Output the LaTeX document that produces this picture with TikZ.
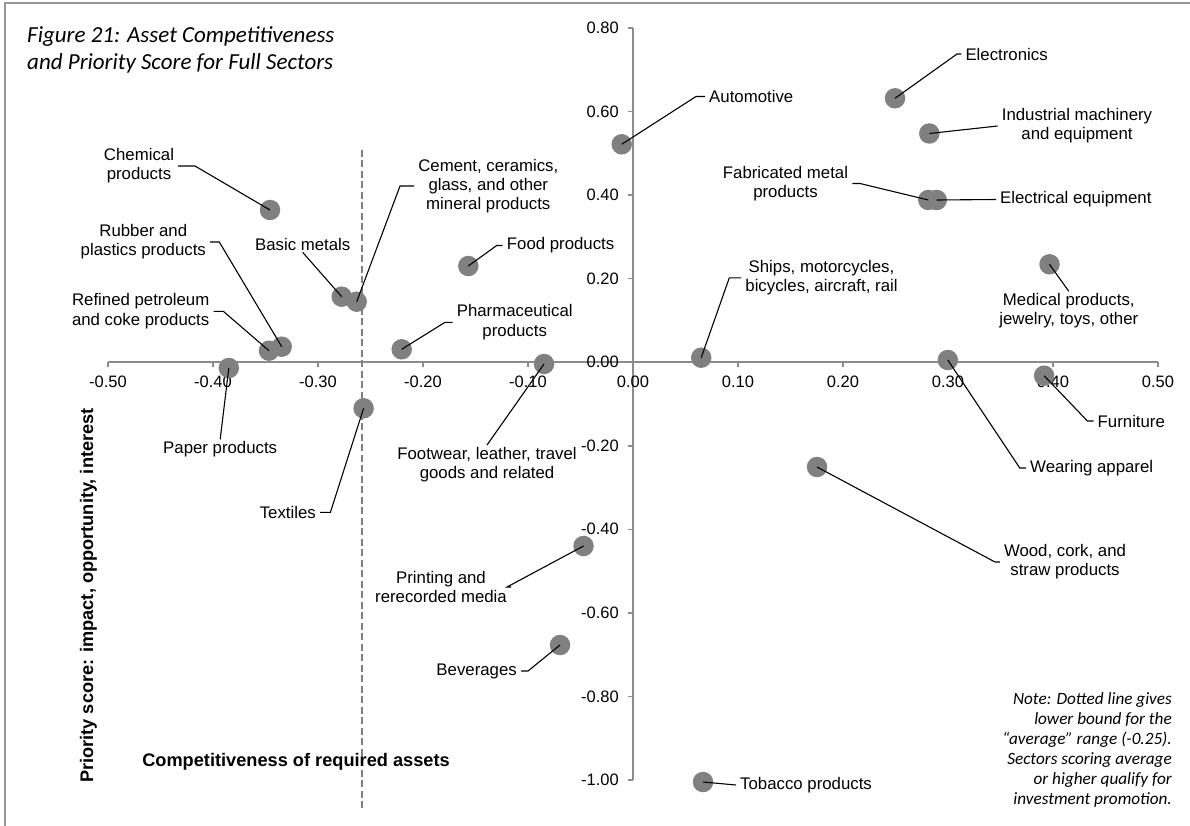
\documentclass[tikz,border=0pt]{standalone}
\usepackage{fontspec}
\setmainfont{Liberation Sans}
\newfontfamily\notefont{Carlito}
\definecolor{dotgray}{RGB}{128,128,128}
\definecolor{axisgray}{RGB}{140,140,140}
\definecolor{framegray}{RGB}{150,150,150}
\begin{document}
\begin{tikzpicture}[x=1pt,y=-1pt,
  every node/.style={inner sep=0pt},
  dotmark/.style={circle, fill=dotgray, minimum size=20.5pt, inner sep=0pt},
  lab/.style={font=\fontsize{16.8}{19.3}\selectfont, align=center, inner xsep=4pt, inner ysep=2pt},
  ticklab/.style={font=\fontsize{16.5}{19}\selectfont},
  axtitle/.style={font=\bfseries\fontsize{18.2}{21}\selectfont},
  axisline/.style={draw=axisgray, line width=1.5pt},
  leader/.style={draw=black, line width=1.1pt},
  avgline/.style={draw=dotgray, line width=2.2pt, dash pattern=on 7pt off 3.5pt},
]
\useasboundingbox (0,0) rectangle (1190,826);

% frame
\draw[framegray, line width=2pt] (5.3,826) -- (5.3,3.5) -- (1190,3.5);

% title
\node[anchor=west, align=left, font=\notefont\itshape\fontsize{23}{27.3}\selectfont] (title) at (27,50)
  {Figure 21: Asset Competitiveness\\and Priority Score for Full Sectors};

% axes
\draw[axisline] (108,362) -- (1158,362);
\draw[axisline] (633,28) -- (633,780);
\foreach \v [count=\i from 0] in {-0.50,-0.40,-0.30,-0.20,-0.10,0.00,0.10,0.20,0.30,0.40,0.50} {
  \draw[axisline] ({108+105*\i},362) -- ({108+105*\i},367);
  \node[ticklab] (xt\i) at ({108+105*\i},381.5) {\v};
}
\foreach \v [count=\i from 0] in {0.80,0.60,0.40,0.20,0.00,-0.20,-0.40,-0.60,-0.80,-1.00} {
  \draw[axisline] (633,{28+83.55*\i}) -- (628,{28+83.55*\i});
  \node[ticklab, anchor=east] (yt\i) at (619,{28+83.55*\i}) {\v};
}

% lower bound of the average range
\draw[avgline] (362,150) -- (362,808);

% axis titles
\node[axtitle, rotate=90] (ytitle) at (88.3,595.5)
  {Priority score: impact, opportunity, interest};
\node[axtitle] (xtitle) at (296,762)
  {Competitiveness of required assets};

% note
\node[anchor=east, align=right, font=\notefont\itshape\fontsize{17.2}{20}\selectfont] (note) at (1172,750)
  {Note: Dotted line gives\\lower bound for the\\“average” range (-0.25).\\Sectors scoring average\\or higher qualify for\\investment promotion.};

% data points
\node[dotmark] (elec) at (895,98.3) {};
\node[dotmark] (indu) at (929.3,133.5) {};
\node[dotmark] (fabr) at (928.3,200) {};
\node[dotmark] (elct) at (936.7,200) {};
\node[dotmark] (auto) at (621.7,144.3) {};
\node[dotmark] (chem) at (270,210) {};
\node[dotmark] (basi) at (341.7,296.7) {};
\node[dotmark] (ceme) at (356.7,301.7) {};
\node[dotmark] (refi) at (269,350.7) {};
\node[dotmark] (rubb) at (281.7,346.7) {};
\node[dotmark] (pape) at (228.8,368) {};
\node[dotmark] (food) at (468.3,266) {};
\node[dotmark] (phar) at (401.7,349.3) {};
\node[dotmark] (foot) at (544,364) {};
\node[dotmark] (text) at (363.6,408.3) {};
\node[dotmark] (ship) at (701.2,357.7) {};
\node[dotmark] (medi) at (1049.5,264.3) {};
\node[dotmark] (wear) at (947.8,360) {};
\node[dotmark] (furn) at (1044.1,375.7) {};
\node[dotmark] (wood) at (817,467) {};
\node[dotmark] (prin) at (583.5,546) {};
\node[dotmark] (beve) at (560,645) {};
\node[dotmark] (toba) at (703,782) {};

% labels
\node[lab, anchor=west] (elecL) at (961.3,54) {Electronics};
\node[lab] (induL) at (1077,126) {Industrial machinery\\and equipment};
\node[lab] (fabrL) at (785.5,183.5) {Fabricated metal\\products};
\node[lab, anchor=west] (elctL) at (996,199.5) {Electrical equipment};
\node[lab, anchor=west] (autoL) at (705,96.5) {Automotive};
\node[lab] (chemL) at (139,166) {Chemical\\products};
\node[lab] (rubbL) at (143.3,242) {Rubber and\\plastics products};
\node[lab] (refiL) at (140.7,311.3) {Refined petroleum\\and coke products};
\node[lab] (basiL) at (302.7,244) {Basic metals};
\node[lab] (cemeL) at (488.3,186) {Cement, ceramics,\\glass, and other\\mineral products};
\node[lab, anchor=west] (foodL) at (502.7,245.5) {Food products};
\node[lab] (pharL) at (514.7,322.3) {Pharmaceutical\\products};
\node[lab] (papeL) at (220.2,449.3) {Paper products};
\node[lab, anchor=east] (textL) at (320,512.3) {Textiles};
\node[lab] (footL) at (487,464.7) {Footwear, leather, travel\\goods and related};
\node[lab] (shipL) at (821.5,277.8) {Ships, motorcycles,\\bicycles, aircraft, rail};
\node[lab] (mediL) at (1068.8,311) {Medical products,\\jewelry, toys, other};
\node[lab, anchor=west] (wearL) at (1026,468) {Wearing apparel};
\node[lab, anchor=west] (furnL) at (1093.5,421) {Furniture};
\node[lab] (woodL) at (1065,562) {Wood, cork, and\\straw products};
\node[lab] (prinL) at (441,587) {Printing and\\rerecorded media};
\node[lab, anchor=east] (beveL) at (521,671) {Beverages};
\node[lab, anchor=west] (tobaL) at (736,785) {Tobacco products};

% leader elbows
\coordinate (elecK) at (957,54);
\coordinate (fabrK) at (860,183.5);
\coordinate (autoK) at (696,96.5);
\coordinate (chemK) at (195,166);
\coordinate (rubbK) at (219.3,242);
\coordinate (refiK) at (223.3,311.3);
\coordinate (cemeK) at (400,186);
\coordinate (foodK) at (496.7,245.5);
\coordinate (pharK) at (445,322.3);
\coordinate (textK) at (330.4,512.3);
\coordinate (shipK) at (729.3,277.8);
\coordinate (wearK) at (1019.8,468);
\coordinate (furnK) at (1087.4,421);
\coordinate (woodK) at (995,562);
\coordinate (prinK) at (507,587);
\coordinate (beveK) at (528,671);

% leader lines
\draw[leader] (elec.center) -- (elecK) -- (elecL.west);
\draw[leader] (indu.center) -- (induL.west);
\draw[leader] (fabr.center) -- (fabrK) -- (fabrL.east);
\draw[leader] (elct.center) -- (elctL.west);
\draw[leader] (auto.center) -- (autoK) -- (autoL.west);
\draw[leader] (chem.center) -- (chemK) -- (chemL.east);
\draw[leader] (rubb.center) -- (rubbK) -- (rubbL.east);
\draw[leader] (refi.center) -- (refiK) -- (refiL.east);
\draw[leader] (basi.center) -- (basiL.south);
\draw[leader] (ceme.center) -- (cemeK) -- (cemeL.west);
\draw[leader] (food.center) -- (foodK) -- (foodL.west);
\draw[leader] (phar.center) -- (pharK) -- (pharL.west);
\draw[leader] (pape.center) -- (papeL.north);
\draw[leader] (text.center) -- (textK) -- (textL.east);
\draw[leader] (foot.center) -- (footL.north);
\draw[leader] (ship.center) -- (shipK) -- (shipL.west);
\draw[leader] (medi.center) -- (mediL.north);
\draw[leader] (wear.center) -- (wearK) -- (wearL.west);
\draw[leader] (furn.center) -- (furnK) -- (furnL.west);
\draw[leader] (wood.center) -- (woodK) -- (woodL.west);
\draw[leader] (prin.center) -- (prinK) -- (prinL.east);
\draw[leader] (beve.center) -- (beveK) -- (beveL.east);
\draw[leader] (toba.center) -- (tobaL.west);
\end{tikzpicture}
\end{document}
